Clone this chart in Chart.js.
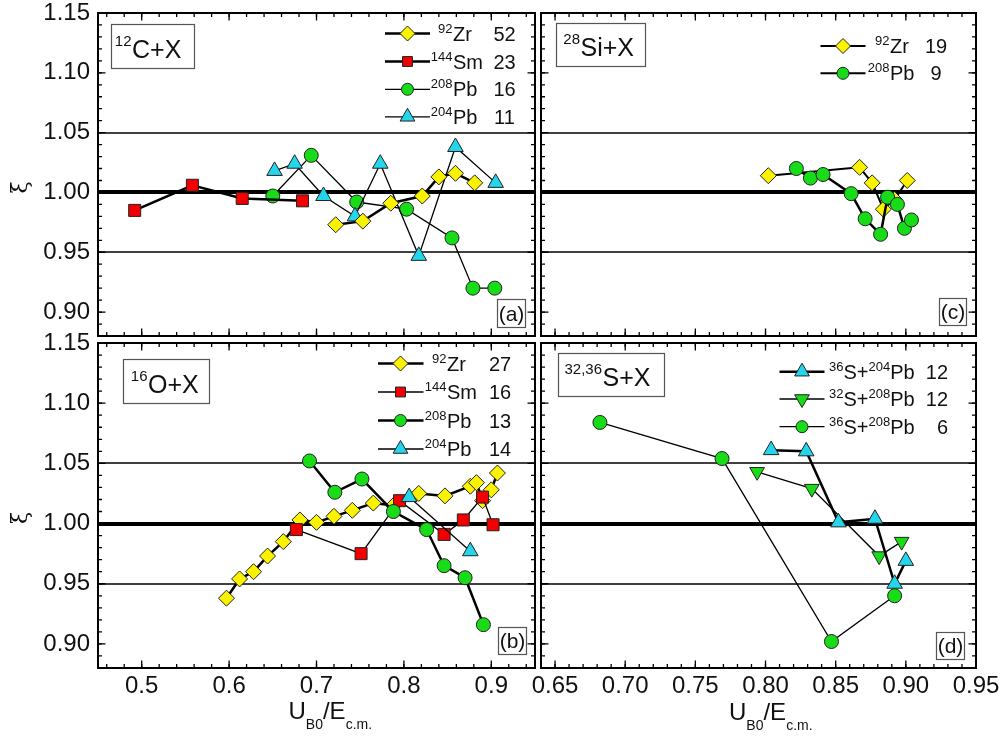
<!DOCTYPE html>
<html>
<head>
<meta charset="utf-8">
<title>xi vs UB0/Ecm</title>
<script src="https://cdn.jsdelivr.net/npm/chart.js@4.4.1/dist/chart.umd.min.js"></script>
<style>
  html, body { margin:0; padding:0; background:#fff; }
  #wrap { position:relative; width:1005px; height:736px; overflow:hidden; background:#fff; }
  #wrap canvas { position:absolute; left:0; top:0; width:1005px; height:736px; }
</style>
</head>
<body>
<div id="wrap">
  <canvas id="pa" width="1005" height="736"></canvas>
  <canvas id="pb" width="1005" height="736"></canvas>
  <canvas id="pc" width="1005" height="736"></canvas>
  <canvas id="pd" width="1005" height="736"></canvas>
</div>
<script>
// ================= DATA =================
const yTickLabels      = ['0.90','0.95','1.00','1.05','1.10','1.15'];
const xTickLabelsLeft  = ['0.5','0.6','0.7','0.8','0.9'];
const xTickLabelsRight = ['0.65','0.70','0.75','0.80','0.85','0.90','0.95'];
const refLines = [0.95, 1.00, 1.05];

// (a) 12C + X
const aZrX    = [0.722, 0.753, 0.785, 0.821, 0.840, 0.859, 0.881];
const aZrY    = [0.973, 0.976, 0.991, 0.997, 1.013, 1.016, 1.008];
const aSmX    = [0.492, 0.558, 0.615, 0.684];
const aSmY    = [0.985, 1.006, 0.995, 0.993];
const aPb208X = [0.650, 0.694, 0.746, 0.803, 0.855, 0.879, 0.904];
const aPb208Y = [0.997, 1.031, 0.992, 0.986, 0.962, 0.920, 0.920];
const aPb204X = [0.652, 0.675, 0.708, 0.744, 0.773, 0.817, 0.859, 0.905];
const aPb204Y = [1.018, 1.024, 0.997, 0.980, 1.024, 0.947, 1.038, 1.008];
const aCounts = ['52', '23', '16', '11'];

// (b) 16O + X
const bZrX    = [0.597,0.612,0.628,0.644,0.662,0.681,0.700,0.720,0.741,0.765,0.788,0.817,0.847,0.876,0.883,0.890,0.900,0.907];
const bZrY    = [0.938,0.954,0.960,0.973,0.985,1.003,1.001,1.006,1.011,1.017,1.015,1.025,1.023,1.031,1.034,1.019,1.028,1.042];
const bSmX    = [0.677,0.751,0.795,0.846,0.868,0.890,0.902];
const bSmY    = [0.995,0.975,1.019,0.991,1.003,1.022,0.999];
const bPb208X = [0.692,0.721,0.752,0.788,0.826,0.846,0.870,0.891];
const bPb208Y = [1.052,1.026,1.037,1.010,0.995,0.965,0.955,0.916];
const bPb204X = [0.806,0.876];
const bPb204Y = [1.022,0.977];
const bCounts = ['27', '16', '13', '14'];

// (c) 28Si + X
const cZrX    = [0.802,0.867,0.876,0.884,0.892,0.901];
const cZrY    = [1.014,1.021,1.008,0.986,0.994,1.010];
const cPb208X = [0.822,0.832,0.841,0.861,0.871,0.882,0.887,0.894,0.899,0.904];
const cPb208Y = [1.020,1.012,1.015,0.999,0.978,0.965,0.996,0.990,0.970,0.977];
const cCounts = ['19', '9'];

// (d) 32,36S + X
const dS36Pb204X = [0.804,0.829,0.852,0.878,0.892,0.900];
const dS36Pb204Y = [1.061,1.060,1.001,1.004,0.950,0.969];
const dS32Pb208X = [0.794,0.833,0.881,0.897];
const dS32Pb208Y = [1.043,1.029,0.973,0.985];
const dS36Pb208X = [0.682,0.769,0.847,0.892];
const dS36Pb208Y = [1.084,1.054,0.902,0.940];
const dCounts = ['12', '12', '6'];

// ================= LAYOUT / STYLE =================
const W = 1005, H = 736;
const FONT = "'Liberation Sans', Arial, Helvetica, sans-serif";
const BOX = {
  pa: {l:98,  t:13,  r:535, b:336},
  pb: {l:98,  t:343, r:535, b:668},
  pc: {l:541, t:13,  r:976, b:336},
  pd: {l:541, t:343, r:976, b:668}
};
const REF_WIDTH = [1.5, 4, 1.5];
const THICK = 2.5, THIN = 1.3;
const YEL = '#fbf200', RED = '#f20000', GRN = '#18dc18', CYA = '#24d6ec';
const MK = {
  dia:  {pointStyle:'rectRot',  r:8,   rot:0,   bg:YEL},
  sq:   {pointStyle:'rect',     r:8.5, rot:0,   bg:RED},
  cir:  {pointStyle:'circle',   r:7,   rot:0,   bg:GRN},
  up:   {pointStyle:'triangle', r:9,   rot:0,   bg:CYA},
  down: {pointStyle:'triangle', r:8.5, rot:180, bg:GRN}
};

function series(xs, ys, mk, lw, order) {
  return {
    data: xs.map((x, i) => ({x: x, y: ys[i]})),
    showLine: true, borderColor: '#000', borderWidth: lw, tension: 0,
    pointStyle: mk.pointStyle, pointRadius: mk.r, pointRotation: mk.rot,
    pointBackgroundColor: mk.bg, pointBorderColor: '#222', pointBorderWidth: 1,
    order: order
  };
}

// minor tick helpers (axis decoration only)
function range100(a, b, step) { const o = []; for (let k = a; k <= b; k += step) o.push(k / 100); return o; }
const yMinor = range100(88, 115, 1);
const xMinorLeft = range100(46, 94, 2);
const xMinorRight = range100(64, 95, 1);

// ---------- text helpers ----------
function fontStr(size, fam) { return size + 'px ' + (fam || FONT); }
function drawParts(ctx, parts, x, y, main, small, rise, drop) {
  let cx = x;
  parts.forEach(p => {
    const sz = p[1] === 'n' ? main : small;
    ctx.font = fontStr(sz);
    const dy = p[1] === 'sup' ? -rise : (p[1] === 'sub' ? drop : 0);
    ctx.fillText(p[0], cx, y + dy);
    cx += ctx.measureText(p[0]).width;
  });
  return cx;
}
// first part (superscript) right-aligned to anchor, rest from anchor
function drawAnchored(ctx, parts, anchor, y, main, small, rise) {
  ctx.font = fontStr(small);
  const w0 = ctx.measureText(parts[0][0]).width;
  ctx.font = fontStr(small);
  ctx.fillText(parts[0][0], anchor - w0 - 0.5, y - rise);
  drawParts(ctx, parts.slice(1), anchor, y, main, small, rise, 0);
}
function legendMarker(ctx, mk, x, y, r) {
  ctx.save();
  ctx.fillStyle = mk.bg; ctx.strokeStyle = '#222'; ctx.lineWidth = 1;
  ctx.beginPath();
  if (mk.pointStyle === 'rectRot') {
    ctx.moveTo(x - r, y); ctx.lineTo(x, y - r); ctx.lineTo(x + r, y); ctx.lineTo(x, y + r); ctx.closePath();
  } else if (mk.pointStyle === 'rect') {
    const s = r * Math.SQRT1_2; ctx.rect(x - s, y - s, 2 * s, 2 * s);
  } else if (mk.pointStyle === 'circle') {
    ctx.arc(x, y, r, 0, Math.PI * 2);
  } else {
    const sgn = mk.rot === 180 ? -1 : 1;
    ctx.moveTo(x, y - sgn * r);
    ctx.lineTo(x + r * 0.866, y + sgn * r * 0.5);
    ctx.lineTo(x - r * 0.866, y + sgn * r * 0.5);
    ctx.closePath();
  }
  ctx.fill(); ctx.stroke();
  ctx.restore();
}

// ---------- decoration config ----------
const DECO = {
  pa: {
    xMajor: xTickLabelsLeft.map(Number), xMinor: xMinorLeft,
    label: {x1:111, y1:24, x2:194, y2:68, anchor:132, base:57.5, parts:[['12','sup'],['C+X','n']]},
    letter: {x1:497, y1:299, x2:525, y2:327, text:'(a)', base:320.5},
    legend: {x1:385, x2:430, mx:407.5, anchor:453, cx:504.5, calign:'center', rows:[33.5, 61.5, 89.3, 116.8],
      items:[
        {parts:[['92','sup'],['Zr','n']], mk:MK.dia, lw:THICK, lr:7.5, count:aCounts[0]},
        {parts:[['144','sup'],['Sm','n']], mk:MK.sq, lw:THICK, lr:7, count:aCounts[1]},
        {parts:[['208','sup'],['Pb','n']], mk:MK.cir, lw:THIN, lr:6, count:aCounts[2]},
        {parts:[['204','sup'],['Pb','n']], mk:MK.up, lw:THIN, lr:8.5, count:aCounts[3]}
      ]},
    xi: {x:21, y:187.5}
  },
  pb: {
    xMajor: xTickLabelsLeft.map(Number), xMinor: xMinorLeft,
    label: {x1:123, y1:359, x2:209, y2:403, anchor:148, base:392.5, parts:[['16','sup'],['O+X','n']]},
    letter: {x1:498, y1:627, x2:526, y2:654, text:'(b)', base:648},
    legend: {x1:378, x2:423.5, mx:400.5, anchor:447, cx:500, calign:'center', rows:[363.5, 392, 420.5, 449],
      items:[
        {parts:[['92','sup'],['Zr','n']], mk:MK.dia, lw:THICK, lr:7.5, count:bCounts[0]},
        {parts:[['144','sup'],['Sm','n']], mk:MK.sq, lw:THIN, lr:7, count:bCounts[1]},
        {parts:[['208','sup'],['Pb','n']], mk:MK.cir, lw:THICK, lr:6, count:bCounts[2]},
        {parts:[['204','sup'],['Pb','n']], mk:MK.up, lw:THIN, lr:8.5, count:bCounts[3]}
      ]},
    xi: {x:21, y:518},
    title: {x:288.5, base:719}
  },
  pc: {
    xMajor: xTickLabelsRight.map(Number), xMinor: xMinorRight,
    label: {x1:556, y1:23, x2:645, y2:66, anchor:580.5, base:56, parts:[['28','sup'],['Si+X','n']]},
    letter: {x1:939, y1:298, x2:966, y2:325, text:'(c)', base:319},
    legend: {x1:820.5, x2:865.5, mx:843, anchor:890, cx:936, calign:'center', rows:[46, 73.3],
      items:[
        {parts:[['92','sup'],['Zr','n']], mk:MK.dia, lw:2, lr:7.5, count:cCounts[0]},
        {parts:[['208','sup'],['Pb','n']], mk:MK.cir, lw:2, lr:6, count:cCounts[1]}
      ]}
  },
  pd: {
    xMajor: xTickLabelsRight.map(Number), xMinor: xMinorRight,
    label: {x1:558, y1:353, x2:664, y2:396, anchor:602.5, base:386, parts:[['32,36','sup'],['S+X','n']]},
    letter: {x1:936, y1:632, x2:964, y2:659, text:'(d)', base:653},
    legend: {x1:779.5, x2:824.5, mx:802, start:829, cx:948, calign:'right', rows:[371.7, 399, 426.7],
      items:[
        {parts:[['36','sup'],['S+','n'],['204','sup'],['Pb','n']], mk:MK.up, lw:THICK, lr:8.5, count:dCounts[0]},
        {parts:[['32','sup'],['S+','n'],['208','sup'],['Pb','n']], mk:MK.down, lw:THIN, lr:8.5, count:dCounts[1]},
        {parts:[['36','sup'],['S+','n'],['208','sup'],['Pb','n']], mk:MK.cir, lw:THIN, lr:6, count:dCounts[2]}
      ]},
    title: {x:729, base:719.5}
  }
};

const decoPlugin = {
  id: 'deco',
  beforeDatasetsDraw(chart) {
    const ctx = chart.ctx, ca = chart.chartArea, ys = chart.scales.y;
    ctx.save();
    ctx.strokeStyle = '#000';
    refLines.forEach((v, i) => {
      const py = Math.round(ys.getPixelForValue(v));
      ctx.lineWidth = REF_WIDTH[i];
      ctx.beginPath(); ctx.moveTo(ca.left, py); ctx.lineTo(ca.right, py); ctx.stroke();
    });
    ctx.restore();
  },
  afterDatasetsDraw(chart) {
    const cfg = DECO[chart.canvas.id];
    const ctx = chart.ctx, ca = chart.chartArea, xs = chart.scales.x, ys = chart.scales.y;
    ctx.save();
    // inward ticks on all four sides
    ctx.strokeStyle = '#000'; ctx.lineWidth = 1.3;
    const xt = (vals, len) => vals.forEach(v => {
      const px = xs.getPixelForValue(v);
      ctx.beginPath();
      ctx.moveTo(px, ca.bottom); ctx.lineTo(px, ca.bottom - len);
      ctx.moveTo(px, ca.top); ctx.lineTo(px, ca.top + len);
      ctx.stroke();
    });
    const yt = (vals, len) => vals.forEach(v => {
      const py = ys.getPixelForValue(v);
      ctx.beginPath();
      ctx.moveTo(ca.left, py); ctx.lineTo(ca.left + len, py);
      ctx.moveTo(ca.right, py); ctx.lineTo(ca.right - len, py);
      ctx.stroke();
    });
    xt(cfg.xMinor, 4); xt(cfg.xMajor, 7.5);
    yt(yMinor, 4); yt(yTickLabels.map(Number), 7.5);
    // frame
    ctx.lineWidth = 2;
    ctx.strokeRect(ca.left, ca.top, ca.right - ca.left, ca.bottom - ca.top);

    ctx.fillStyle = '#111'; ctx.textBaseline = 'alphabetic'; ctx.textAlign = 'left';
    // system label box
    const L = cfg.label;
    ctx.strokeStyle = '#555'; ctx.lineWidth = 1.2;
    ctx.strokeRect(L.x1 + 0.5, L.y1 + 0.5, L.x2 - L.x1, L.y2 - L.y1);
    drawAnchored(ctx, L.parts, L.anchor, L.base, 25, 15, 12);
    // panel letter
    const P = cfg.letter;
    ctx.strokeRect(P.x1 + 0.5, P.y1 + 0.5, P.x2 - P.x1, P.y2 - P.y1);
    ctx.font = fontStr(21); ctx.textAlign = 'center';
    ctx.fillText(P.text, (P.x1 + P.x2) / 2 + 0.5, P.base);
    ctx.textAlign = 'left';
    // legend
    const G = cfg.legend;
    G.items.forEach((it, i) => {
      const ry = G.rows[i];
      ctx.strokeStyle = '#000'; ctx.lineWidth = it.lw;
      ctx.beginPath(); ctx.moveTo(G.x1, ry); ctx.lineTo(G.x2, ry); ctx.stroke();
      legendMarker(ctx, it.mk, G.mx, ry, it.lr);
      ctx.fillStyle = '#111';
      if (G.anchor !== undefined) drawAnchored(ctx, it.parts, G.anchor, ry + 7, 20, 13, 8);
      else drawParts(ctx, it.parts, G.start, ry + 7, 20, 13, 8, 0);
      ctx.font = fontStr(20); ctx.textAlign = G.calign;
      ctx.fillText(it.count, G.cx, ry + 7);
      ctx.textAlign = 'left';
    });
    // axis title
    if (cfg.title) {
      drawParts(ctx, [['U','n'],['B0','sub'],['/E','n'],['c.m.','sub']], cfg.title.x, cfg.title.base, 24, 14, 0, 10);
    }
    // y axis symbol
    if (cfg.xi) {
      ctx.save();
      ctx.translate(cfg.xi.x, cfg.xi.y);
      ctx.rotate(-Math.PI / 2);
      ctx.font = "22px 'DejaVu Serif', 'Liberation Serif', serif";
      ctx.textAlign = 'center'; ctx.textBaseline = 'middle';
      ctx.fillText('\u03BE', 0, 0);
      ctx.restore();
    }
    ctx.restore();
  }
};

function makePanel(id, xr, showX, showY, datasets) {
  const box = BOX[id];
  const xLabels = xr.labels, xVals = xLabels.map(Number);
  const yVals = yTickLabels.map(Number);
  const zeroPad = s => { s.paddingLeft = 0; s.paddingRight = 0; s.paddingTop = 0; s.paddingBottom = 0; };
  return new Chart(document.getElementById(id), {
    type: 'scatter',
    data: { datasets: datasets },
    options: {
      responsive: false, maintainAspectRatio: false, animation: false, devicePixelRatio: 1, events: [],
      layout: { padding: { left: 0, top: box.t, right: W - box.r, bottom: 0 } },
      plugins: { legend: { display: false }, tooltip: { enabled: false } },
      scales: {
        x: {
          type: 'linear', position: 'bottom', min: xr.min, max: xr.max,
          grid: { display: false, drawTicks: false }, border: { display: false },
          ticks: {
            display: showX, padding: 4, autoSkip: false, maxRotation: 0, minRotation: 0,
            color: '#111', font: { size: 24, family: FONT },
            callback: v => { const i = xVals.findIndex(t => Math.abs(t - v) < 1e-9); return i >= 0 ? xLabels[i] : ''; }
          },
          afterBuildTicks: s => { s.ticks = xVals.map(v => ({ value: v })); },
          afterFit: s => { s.height = H - box.b; zeroPad(s); }
        },
        y: {
          type: 'linear', position: 'left', min: 0.88, max: 1.15,
          grid: { display: false, drawTicks: false }, border: { display: false },
          ticks: {
            display: showY, padding: 8, autoSkip: false,
            color: '#111', font: { size: 24, family: FONT },
            callback: v => { const i = yVals.findIndex(t => Math.abs(t - v) < 1e-9); return i >= 0 ? yTickLabels[i] : ''; }
          },
          afterBuildTicks: s => { s.ticks = yVals.map(v => ({ value: v })); },
          afterFit: s => { s.width = box.l; zeroPad(s); }
        }
      }
    },
    plugins: [decoPlugin]
  });
}

const XL = { min: 0.45, max: 0.95, labels: xTickLabelsLeft };
const XR = { min: 0.64, max: 0.95, labels: xTickLabelsRight };

makePanel('pa', XL, false, true, [
  series(aZrX, aZrY, MK.dia, THICK, 1),
  series(aSmX, aSmY, MK.sq, THICK, 3),
  series(aPb208X, aPb208Y, MK.cir, THIN, 4),
  series(aPb204X, aPb204Y, MK.up, THIN, 2)
]);
makePanel('pb', XL, true, true, [
  series(bZrX, bZrY, MK.dia, THICK, 4),
  series(bSmX, bSmY, MK.sq, THIN, 3),
  series(bPb208X, bPb208Y, MK.cir, THICK, 2),
  series(bPb204X, bPb204Y, MK.up, THIN, 1)
]);
makePanel('pc', XR, false, false, [
  series(cZrX, cZrY, MK.dia, 2, 2),
  series(cPb208X, cPb208Y, MK.cir, THICK, 1)
]);
makePanel('pd', XR, true, false, [
  series(dS36Pb204X, dS36Pb204Y, MK.up, THICK, 2),
  series(dS32Pb208X, dS32Pb208Y, MK.down, THIN, 3),
  series(dS36Pb208X, dS36Pb208Y, MK.cir, THIN, 1)
]);
</script>
</body>
</html>
